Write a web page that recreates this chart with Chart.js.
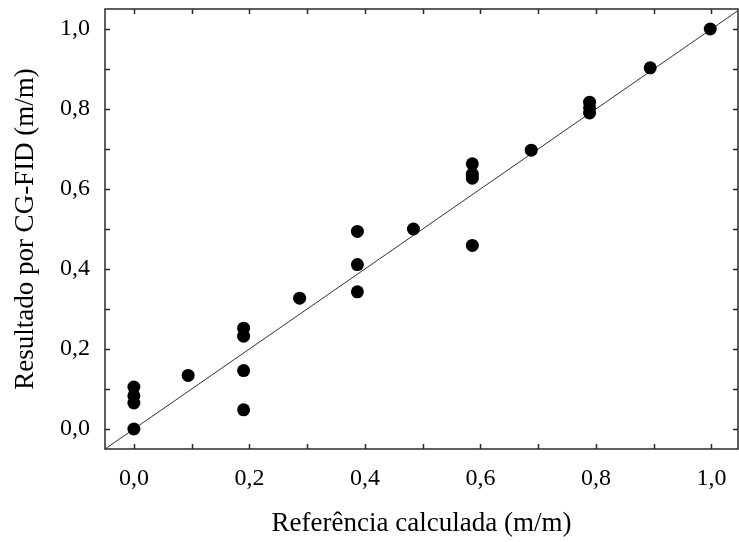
<!DOCTYPE html>
<html>
<head>
<meta charset="utf-8">
<script src="https://cdn.jsdelivr.net/npm/chart.js@4.4.0/dist/chart.umd.min.js"></script>
<style>
html,body{margin:0;padding:0;background:#fff;overflow:hidden;}
canvas{display:block;}
</style>
</head>
<body>
<canvas id="c" width="739" height="542"></canvas>
<script>
// Data
const xValues = [0, 0, 0, 0, 0.094, 0.19, 0.19, 0.19, 0.19, 0.287, 0.387, 0.387, 0.387, 0.484, 0.586, 0.586, 0.586, 0.586, 0.688, 0.789, 0.789, 0.789, 0.894, 0.998];
const yValues = [0, 0.065, 0.083, 0.105, 0.134, 0.048, 0.146, 0.232, 0.252, 0.327, 0.343, 0.411, 0.494, 0.5, 0.459, 0.627, 0.637, 0.663, 0.697, 0.79, 0.803, 0.817, 0.903, 1.0];
const refLineX = [-0.05, 1.05];
const refLineY = [-0.05, 1.05];
const tickValues = [0, 0.2, 0.4, 0.6, 0.8, 1.0];
const tickLabels = ['0,0', '0,2', '0,4', '0,6', '0,8', '1,0'];
const minorTickValues = [0, 0.1, 0.2, 0.3, 0.4, 0.5, 0.6, 0.7, 0.8, 0.9, 1.0];
const xTitle = 'Referência calculada (m/m)';
const yTitle = 'Resultado por CG-FID (m/m)';

const points = xValues.map((x, i) => ({x: x, y: yValues[i]}));
const linePts = refLineX.map((x, i) => ({x: x, y: refLineY[i]}));

const FONT = "'Liberation Serif', 'Times New Roman', serif";

const frameTicks = {
  id: 'frameTicks',
  afterDraw(chart) {
    const {ctx, chartArea: a, scales} = chart;
    const xs = scales.x, ys = scales.y;
    ctx.save();
    ctx.strokeStyle = '#2a2a2a';
    ctx.lineWidth = 1.5;
    ctx.strokeRect(a.left, a.top, a.right - a.left, a.bottom - a.top);
    const L = 5;
    ctx.beginPath();
    minorTickValues.forEach(v => {
      const px = Math.round(xs.getPixelForValue(v)) + 0.5;
      ctx.moveTo(px, a.bottom); ctx.lineTo(px, a.bottom - L);
      ctx.moveTo(px, a.top); ctx.lineTo(px, a.top + L);
      const py = Math.round(ys.getPixelForValue(v)) + 0.5;
      ctx.moveTo(a.left, py); ctx.lineTo(a.left + L, py);
      ctx.moveTo(a.right, py); ctx.lineTo(a.right - L, py);
    });
    ctx.stroke();
    ctx.restore();
  }
};

new Chart(document.getElementById('c'), {
  type: 'scatter',
  data: {
    datasets: [
      {
        data: points,
        backgroundColor: '#000',
        borderColor: '#000',
        borderWidth: 0,
        pointRadius: 6.5,
        pointHoverRadius: 6.5,
        order: 0
      },
      {
        type: 'line',
        data: linePts,
        borderColor: '#333',
        borderWidth: 1,
        pointRadius: 0,
        fill: false,
        tension: 0,
        order: 1
      }
    ]
  },
  options: {
    responsive: false,
    animation: false,
    layout: {autoPadding: false, padding: {left: 0, right: 1, top: 9, bottom: 0}},
    plugins: {legend: {display: false}, tooltip: {enabled: false}},
    scales: {
      x: {
        type: 'linear',
        min: -0.05,
        max: 1.046,
        grid: {display: false, drawTicks: false},
        border: {display: false},
        afterBuildTicks: s => { s.ticks = tickValues.map(v => ({value: v})); },
        afterFit: s => { s.height = 93; s.paddingLeft = 0; s.paddingRight = 0; },
        ticks: {
          padding: 15,
          color: '#000',
          font: {family: FONT, size: 24},
          maxRotation: 0,
          callback: (v, i) => tickLabels[i]
        },
        title: {
          display: true,
          text: xTitle,
          color: '#000',
          font: {family: FONT, size: 27},
          padding: {top: 0, bottom: 2}
        }
      },
      y: {
        type: 'linear',
        min: -0.05,
        max: 1.05,
        grid: {display: false, drawTicks: false},
        border: {display: false},
        afterBuildTicks: s => { s.ticks = tickValues.map(v => ({value: v})); },
        afterFit: s => { s.width = 105; s.paddingTop = 0; s.paddingBottom = 0; },
        ticks: {
          padding: 15,
          color: '#000',
          font: {family: FONT, size: 24},
          callback: (v, i) => tickLabels[i]
        },
        title: {
          display: true,
          text: yTitle,
          color: '#000',
          font: {family: FONT, size: 27},
          padding: {top: 10, bottom: 0}
        }
      }
    }
  },
  plugins: [frameTicks]
});
</script>
</body>
</html>
